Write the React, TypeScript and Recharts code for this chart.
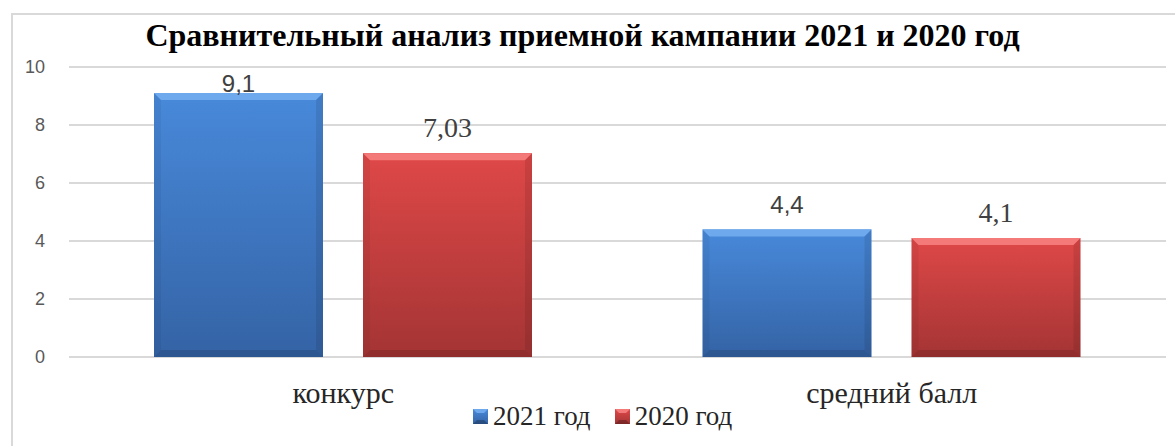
import { BarChart, Bar, XAxis, YAxis, CartesianGrid, LabelList } from "recharts";

const categories = ["конкурс", "средний балл"];
const values2021 = [9.1, 4.4];
const values2020 = [7.03, 4.1];
const yTicks = [0, 2, 4, 6, 8, 10];
const seriesNames = ["2021 год", "2020 год"];

const data = categories.map((c, i) => ({ name: c, y2021: values2021[i], y2020: values2020[i] }));

const SERIF = "'Liberation Serif', 'Times New Roman', serif";
const SANS = "'Liberation Sans', Arial, sans-serif";
const PLOT_TOP = 67;

const COLORS = {
  blue: { top: "#4889da", bottom: "#3463a5", bevel: "#6ea9ee" },
  red: { top: "#df4848", bottom: "#a43434", bevel: "#f47a7a" },
};

function BevelBar(props: any, tone: "blue" | "red") {
  const { x, y, width: w, height: h } = props;
  if (!w || !h) return null;
  const b = 7;
  const c = COLORS[tone];
  return (
    <g>
      <rect x={x} y={y} width={w} height={h} fill={`url(#grad-${tone})`} />
      <polygon
        points={`${x},${y} ${x + w},${y} ${x + w - b},${y + b} ${x + b},${y + b}`}
        fill={c.bevel}
      />
      <polygon
        points={`${x},${y} ${x + b},${y + b} ${x + b},${y + h - b} ${x},${y + h}`}
        fill="rgba(0,0,0,0.05)"
      />
      <polygon
        points={`${x + w},${y} ${x + w - b},${y + b} ${x + w - b},${y + h - b} ${x + w},${y + h}`}
        fill="rgba(0,0,0,0.09)"
      />
      <polygon
        points={`${x},${y + h} ${x + b},${y + h - b} ${x + w - b},${y + h - b} ${x + w},${y + h}`}
        fill="rgba(0,0,0,0.12)"
      />
    </g>
  );
}

function makeLabel(font: string, size: number) {
  return (props: any) => {
    const { x, y, width, value } = props;
    const baseline = Math.max(y - 16.5, PLOT_TOP + 25);
    return (
      <text
        x={x + width / 2}
        y={baseline}
        textAnchor="middle"
        fontFamily={font}
        fontSize={size}
        fill="#404040"
      >
        {String(value).replace(".", ",")}
      </text>
    );
  };
}

function LegendBlock() {
  const items = [
    { name: seriesNames[0], tone: "blue" as const },
    { name: seriesNames[1], tone: "red" as const },
  ];
  return (
    <div
      style={{
        position: "absolute",
        left: 473,
        top: 402,
        display: "flex",
        alignItems: "center",
        fontFamily: SERIF,
        fontSize: 27,
        color: "#262626",
      }}
    >
      {items.map((it, i) => (
        <div key={i} style={{ display: "flex", alignItems: "center", marginRight: 24 }}>
          <svg width={15} height={15} style={{ marginRight: 5 }}>
            <rect x={0} y={0} width={15} height={15} fill={`url(#grad-${it.tone})`} />
            <polygon points="0,0 15,0 11,4 4,4" fill={COLORS[it.tone].bevel} />
            <polygon points="0,15 4,11 11,11 15,15" fill="rgba(0,0,0,0.25)" />
          </svg>
          <span style={{ lineHeight: "28px" }}>{it.name}</span>
        </div>
      ))}
    </div>
  );
}

export default function App() {
  return (
    <div style={{ position: "relative", width: 1175, height: 446, background: "#fff", overflow: "hidden" }}>
      <style>{"body{margin:0}"}</style>
      <div
        style={{
          position: "absolute",
          left: 11,
          top: 13,
          right: -4,
          bottom: -4,
          borderLeft: "2px solid #d9d9d9",
          borderTop: "2px solid #d9d9d9",
        }}
      />
      <div
        style={{
          position: "absolute",
          left: 0,
          width: 1165,
          top: 19,
          textAlign: "center",
          fontFamily: SERIF,
          fontWeight: "bold",
          fontSize: 32,
          lineHeight: "32px",
          color: "#000",
        }}
      >
        Сравнительный анализ приемной кампании 2021 и 2020 год
      </div>
      <BarChart
        width={1175}
        height={446}
        data={data}
        margin={{ top: PLOT_TOP, right: 9, bottom: 59, left: 0 }}
        barCategoryGap={85}
        barGap={40}
        style={{ position: "absolute", left: 0, top: 0 }}
      >
        <defs>
          <linearGradient id="grad-blue" x1="0" y1="0" x2="0" y2="1">
            <stop offset="0%" stopColor={COLORS.blue.top} />
            <stop offset="100%" stopColor={COLORS.blue.bottom} />
          </linearGradient>
          <linearGradient id="grad-red" x1="0" y1="0" x2="0" y2="1">
            <stop offset="0%" stopColor={COLORS.red.top} />
            <stop offset="100%" stopColor={COLORS.red.bottom} />
          </linearGradient>
        </defs>
        <CartesianGrid vertical={false} stroke="#d9d9d9" strokeWidth={2} />
        <XAxis
          dataKey="name"
          height={30}
          axisLine={false}
          tickLine={false}
          tickSize={0}
          tickMargin={25}
          tick={{ fontFamily: SERIF, fontSize: 30, fill: "#262626" }}
        />
        <YAxis
          domain={[0, 10]}
          ticks={yTicks}
          width={69}
          axisLine={false}
          tickLine={false}
          tickSize={0}
          tickMargin={24}
          tick={{ fontFamily: SANS, fontSize: 18, fill: "#595959" }}
        />
        <Bar
          dataKey="y2021"
          name={seriesNames[0]}
          fill={COLORS.blue.top}
          isAnimationActive={false}
          shape={(p: any) => BevelBar(p, "blue")}
        >
          <LabelList dataKey="y2021" content={makeLabel(SANS, 24)} />
        </Bar>
        <Bar
          dataKey="y2020"
          name={seriesNames[1]}
          fill={COLORS.red.top}
          isAnimationActive={false}
          shape={(p: any) => BevelBar(p, "red")}
        >
          <LabelList dataKey="y2020" content={makeLabel(SERIF, 28)} />
        </Bar>
      </BarChart>
      <LegendBlock />
    </div>
  );
}
